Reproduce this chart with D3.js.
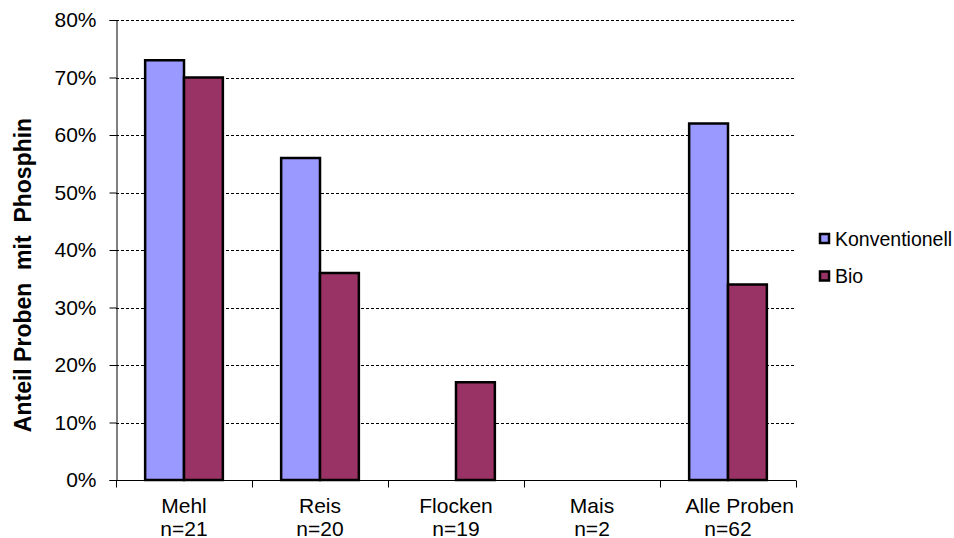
<!DOCTYPE html>
<html>
<head>
<meta charset="utf-8">
<script src="https://cdn.jsdelivr.net/npm/d3@7"></script>
<style>
  html, body { margin: 0; padding: 0; background: #fff; }
  svg { display: block; font-family: "Liberation Sans", Arial, sans-serif; }
</style>
</head>
<body>
<svg id="chart" width="954" height="538"></svg>
<script>
// Phosphine findings by product group
const categories = ["Mehl", "Reis", "Flocken", "Mais", "Alle Proben"];
// label text as typed in the source sheet (the last one carries leading blanks)
const categoryLabels = ["Mehl", "Reis", "Flocken", "Mais", "\u00A0\u00A0\u00A0\u00A0Alle Proben"];
const sampleCounts = ["n=21", "n=20", "n=19", "n=2", "n=62"];
const seriesNames = ["Konventionell", "Bio"];
const konventionell = [73, 56, 0, 0, 62];
const bio = [70, 36, 17, 0, 34];
const seriesColors = ["#9999FF", "#993366"];
const yTicks = [0, 10, 20, 30, 40, 50, 60, 70, 80];

const AXIS_FS = 21;
const LEGEND_FS = 19.5;
const svg = d3.select("#chart");
const margin = { left: 116, right: 158, top: 20, bottom: 58 };
const W = 954, H = 538;
const x0 = margin.left, x1 = W - margin.right;
const y0 = H - margin.bottom, y1 = margin.top;

const x = d3.scaleBand().domain(categories).range([x0, x1]).padding(0);
const y = d3.scaleLinear().domain([0, 80]).range([y0, y1]);

// gridlines
svg.append("g")
  .selectAll("line")
  .data(yTicks.filter(t => t > 0))
  .join("line")
  .attr("x1", x0).attr("x2", x1)
  .attr("y1", d => Math.round(y(d)) + 0.5).attr("y2", d => Math.round(y(d)) + 0.5)
  .attr("stroke", "#000")
  .attr("stroke-width", 1)
  .attr("stroke-dasharray", "3,2");

// bars
const bw = x.bandwidth() / 3.5;
const inner = d3.scaleBand().domain(seriesNames).range([0, 2 * bw]).padding(0);
const rows = categories.map((c, i) => ({ cat: c, vals: [konventionell[i], bio[i]] }));
const groups = svg.append("g").selectAll("g")
  .data(rows).join("g")
  .attr("transform", d => `translate(${x(d.cat) + 0.75 * bw},0)`);
groups.selectAll("rect")
  .data(d => d.vals.map((v, j) => ({ v, s: seriesNames[j], j })).filter(e => e.v > 0))
  .join("rect")
  .attr("x", d => inner(d.s))
  .attr("width", inner.bandwidth())
  .attr("y", d => y(d.v))
  .attr("height", d => y(0) - y(d.v))
  .attr("fill", d => seriesColors[d.j])
  .attr("stroke", "#000")
  .attr("stroke-width", 2.5);

// y axis
const yAxis = d3.axisLeft(y).tickValues(yTicks).tickSize(7).tickPadding(13)
  .tickFormat(d => d + "%");
const gy = svg.append("g").attr("transform", `translate(${x0 + 0.5},0)`).call(yAxis);
gy.attr("font-size", AXIS_FS).attr("font-family", "Liberation Sans, Arial, sans-serif");
gy.select(".domain").attr("stroke", "#000");
gy.selectAll(".tick line").attr("stroke", "#000");
gy.selectAll(".tick text").attr("fill", "#000");

// x axis
const gx = svg.append("g").attr("transform", `translate(0,${y0 + 0.5})`);
gx.append("line").attr("x1", x0).attr("x2", x1).attr("stroke", "#000");
const bounds = categories.map(c => x(c)).concat([x1]);
gx.selectAll(".xt").data(bounds).join("line")
  .attr("class", "xt")
  .attr("x1", d => Math.round(d) + 0.5).attr("x2", d => Math.round(d) + 0.5)
  .attr("y1", 0).attr("y2", 7)
  .attr("stroke", "#000");
const lbl = gx.selectAll(".xl").data(categories).join("text")
  .attr("class", "xl")
  .attr("text-anchor", "middle")
  .attr("font-size", AXIS_FS)
  .attr("fill", "#000")
  .style("white-space", "pre");
lbl.append("tspan").attr("x", d => x(d) + x.bandwidth() / 2).attr("y", 32.5)
  .text((d, i) => categoryLabels[i]);
lbl.append("tspan").attr("x", d => x(d) + x.bandwidth() / 2).attr("y", 55)
  .text((d, i) => sampleCounts[i]);

// y title
svg.append("text")
  .attr("transform", `translate(31,${(y0 + y1) / 2 + 25}) rotate(-90)`)
  .attr("text-anchor", "middle")
  .attr("font-size", 23)
  .attr("font-weight", "bold")
  .attr("xml:space", "preserve")
  .style("white-space", "pre")
  .text("Anteil Proben  mit  Phosphin");

// legend
const legend = svg.append("g").attr("transform", "translate(819,0)");
const ly = [238.5, 276];
seriesNames.forEach((s, i) => {
  legend.append("rect")
    .attr("x", 1).attr("y", ly[i] - 4.5)
    .attr("width", 9).attr("height", 9)
    .attr("fill", seriesColors[i])
    .attr("stroke", "#000").attr("stroke-width", 2.5);
  legend.append("text")
    .attr("x", 16).attr("y", ly[i] + 7)
    .attr("font-size", LEGEND_FS)
    .attr("fill", "#000")
    .text(s);
});
</script>
</body>
</html>
